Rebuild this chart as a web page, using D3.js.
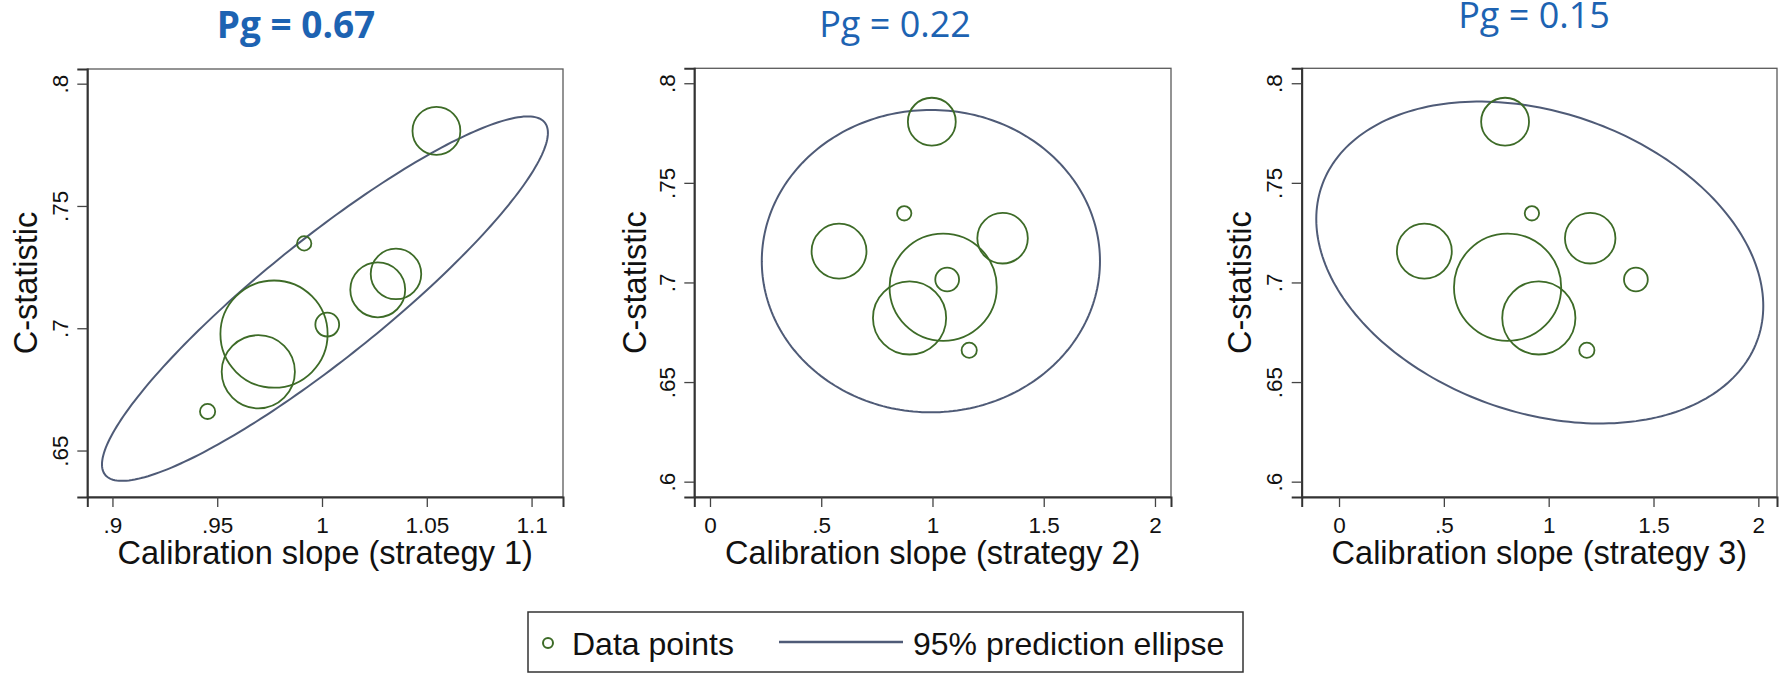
<!DOCTYPE html>
<html>
<head>
<meta charset="utf-8">
<script src="https://cdn.jsdelivr.net/npm/d3@7"></script>
<style>
  html, body { margin: 0; padding: 0; background: #ffffff; }
  svg { display: block; }
</style>
</head>
<body>
<svg id="chart" width="1781" height="673"></svg>
<script>
// ---------------- DATA ----------------
const studies = ["Study 1", "Study 2", "Study 3", "Study 4", "Study 5", "Study 6", "Study 7", "Study 8"];
const cStatistic = [0.7807, 0.7347, 0.7222, 0.7157, 0.6976, 0.6822, 0.7015, 0.6660];
const slopeStrategy1 = [1.0546, 0.9915, 1.0353, 1.0266, 0.9771, 0.9696, 1.0025, 0.9454];
const slopeStrategy2 = [0.997, 0.873, 1.315, 0.580, 1.048, 0.897, 1.066, 1.165];
const slopeStrategy3 = [0.792, 0.920, 1.198, 0.407, 0.804, 0.953, 1.416, 1.182];
const studyWeights = [8.9, 0.8, 9.9, 11.7, 44.6, 20.8, 2.2, 0.9];

const panelTitles = ["Pg = 0.67", "Pg = 0.22", "Pg = 0.15"];
const xAxisTitles = ["Calibration slope (strategy 1)", "Calibration slope (strategy 2)", "Calibration slope (strategy 3)"];
const yAxisTitle = "C-statistic";

// 95% prediction ellipse: centre, half-range in x and y, correlation
const ellipseCentreX = [1.0014, 0.9928, 0.9575];
const ellipseCentreY = [0.7121, 0.7107, 0.7100];
const ellipseHalfX = [0.1064, 0.760, 1.066];
const ellipseHalfY = [0.0745, 0.0759, 0.0808];
const ellipseRho = [0.91, 0.0, -0.27];

const xDomains = [[0.888, 1.115], [-0.0705, 2.072], [-0.178, 2.089]];
const yDomains = [[0.631, 0.806], [0.5923, 0.8075], [0.5923, 0.8075]];

const xTicks1 = [0.9, 0.95, 1, 1.05, 1.1];
const xTickLabels1 = [".9", ".95", "1", "1.05", "1.1"];
const xTicks23 = [0, 0.5, 1, 1.5, 2];
const xTickLabels23 = ["0", ".5", "1", "1.5", "2"];
const yTicks1 = [0.65, 0.7, 0.75, 0.8];
const yTickLabels1 = [".65", ".7", ".75", ".8"];
const yTicks23 = [0.6, 0.65, 0.7, 0.75, 0.8];
const yTickLabels23 = [".6", ".65", ".7", ".75", ".8"];

const legendLabels = ["Data points", "95% prediction ellipse"];

// ---------------- STYLE / LAYOUT ----------------
const pointColor = "#3d6b27";
const ellipseColor = "#4f5b77";
const titleColor = "#1d63b2";
const axisFont = "'Liberation Sans', Arial, sans-serif";
const titleFont = "'Open Sans', 'Noto Sans', sans-serif";

const panels = [
  { left: 87.3, right: 563, top: 69, bottom: 497, titleX: 296, titleY: 38, bold: true, titleSize: 37,
    slopes: slopeStrategy1, xTicks: xTicks1, xLabels: xTickLabels1, yTicks: yTicks1, yLabels: yTickLabels1, yTitleOff: 50 },
  { left: 694.3, right: 1171, top: 68.3, bottom: 497, titleX: 895, titleY: 37, bold: false, titleSize: 36,
    slopes: slopeStrategy2, xTicks: xTicks23, xLabels: xTickLabels23, yTicks: yTicks23, yLabels: yTickLabels23, yTitleOff: 48 },
  { left: 1301.7, right: 1777, top: 68.3, bottom: 497, titleX: 1534, titleY: 28, bold: false, titleSize: 36,
    slopes: slopeStrategy3, xTicks: xTicks23, xLabels: xTickLabels23, yTicks: yTicks23, yLabels: yTickLabels23, yTitleOff: 51 }
];

const svg = d3.select("#chart");
svg.append("rect").attr("width", 1781).attr("height", 673).attr("fill", "#fff");

const rScale = d3.scaleSqrt().domain([0, d3.max(studyWeights)]).range([0, 53.6]);

panels.forEach((p, i) => {
  const g = svg.append("g");
  const x = d3.scaleLinear().domain(xDomains[i]).range([p.left, p.right]);
  const y = d3.scaleLinear().domain(yDomains[i]).range([p.bottom, p.top]);

  // Title
  g.append("text")
    .attr("x", p.titleX).attr("y", p.titleY)
    .attr("text-anchor", "middle")
    .attr("font-family", titleFont)
    .attr("font-size", p.titleSize)
    .attr("font-weight", p.bold ? 700 : 400)
    .attr("fill", titleColor)
    .text(panelTitles[i]);

  // Plot frame
  g.append("rect")
    .attr("x", p.left).attr("y", p.top)
    .attr("width", p.right - p.left).attr("height", p.bottom - p.top)
    .attr("fill", "none").attr("stroke", "#5a5a5a").attr("stroke-width", 1.3);

  // Axes
  const xAxis = d3.axisBottom(x).tickValues(p.xTicks)
    .tickFormat((d, k) => p.xLabels[k]).tickSize(10).tickPadding(10);
  const gx = g.append("g").attr("transform", `translate(0,${p.bottom})`).call(xAxis);
  gx.select(".domain").attr("stroke", "#333").attr("stroke-width", 2);
  gx.selectAll(".tick line").attr("stroke", "#444").attr("stroke-width", 1.3);
  gx.selectAll(".tick text")
    .attr("font-family", axisFont).attr("font-size", 22.5).attr("fill", "#111")
    .attr("dy", "0.71em");

  const yAxis = d3.axisLeft(y).tickValues(p.yTicks)
    .tickFormat((d, k) => p.yLabels[k]).tickSize(10).tickPadding(9);
  const gy = g.append("g").attr("transform", `translate(${p.left},0)`).call(yAxis);
  gy.select(".domain").attr("stroke", "#333").attr("stroke-width", 2);
  gy.selectAll(".tick line").attr("stroke", "#444").attr("stroke-width", 1.3);
  gy.selectAll(".tick text")
    .attr("font-family", axisFont).attr("font-size", 22.5).attr("fill", "#111")
    .attr("x", null).attr("dy", null)
    .attr("text-anchor", "middle")
    .attr("transform", "translate(-19.5,0) rotate(-90)");

  // Axis titles
  g.append("text")
    .attr("x", (p.left + p.right) / 2).attr("y", p.bottom + 67)
    .attr("text-anchor", "middle")
    .attr("font-family", axisFont).attr("font-size", 32.5).attr("fill", "#111")
    .text(xAxisTitles[i]);
  g.append("text")
    .attr("transform", `translate(${p.left - p.yTitleOff},${(p.top + p.bottom) / 2}) rotate(-90)`)
    .attr("text-anchor", "middle")
    .attr("font-family", axisFont).attr("font-size", 32.5).attr("fill", "#111")
    .text(yAxisTitle);

  // Prediction ellipse
  const n = 240;
  const rho = ellipseRho[i];
  const ts = d3.range(n).map(k => (k / n) * 2 * Math.PI);
  const pts = ts.map(t => [
    ellipseCentreX[i] + ellipseHalfX[i] * Math.cos(t),
    ellipseCentreY[i] + ellipseHalfY[i] * (rho * Math.cos(t) + Math.sqrt(1 - rho * rho) * Math.sin(t))
  ]);
  g.append("path")
    .attr("d", d3.line().x(d => x(d[0])).y(d => y(d[1])).curve(d3.curveLinearClosed)(pts))
    .attr("fill", "none").attr("stroke", ellipseColor).attr("stroke-width", 2);

  // Data points (weighted circles)
  g.selectAll("circle.pt")
    .data(studies.map((s, k) => ({ s, xv: p.slopes[k], yv: cStatistic[k], w: studyWeights[k] })))
    .join("circle")
    .attr("class", "pt")
    .attr("cx", d => x(d.xv)).attr("cy", d => y(d.yv)).attr("r", d => rScale(d.w))
    .attr("fill", "none").attr("stroke", pointColor).attr("stroke-width", 1.8);
});

// ---------------- LEGEND ----------------
const lg = svg.append("g");
lg.append("rect").attr("x", 528).attr("y", 612).attr("width", 715).attr("height", 60)
  .attr("fill", "#fff").attr("stroke", "#333").attr("stroke-width", 1.5);
lg.append("circle").attr("cx", 548).attr("cy", 643).attr("r", 5)
  .attr("fill", "none").attr("stroke", pointColor).attr("stroke-width", 2);
lg.append("text").attr("x", 572).attr("y", 655)
  .attr("font-family", axisFont).attr("font-size", 32).attr("fill", "#111")
  .text(legendLabels[0]);
lg.append("line").attr("x1", 779).attr("x2", 903).attr("y1", 642).attr("y2", 642)
  .attr("stroke", ellipseColor).attr("stroke-width", 2.5);
lg.append("text").attr("x", 913).attr("y", 655)
  .attr("font-family", axisFont).attr("font-size", 32).attr("fill", "#111")
  .text(legendLabels[1]);
</script>
</body>
</html>
